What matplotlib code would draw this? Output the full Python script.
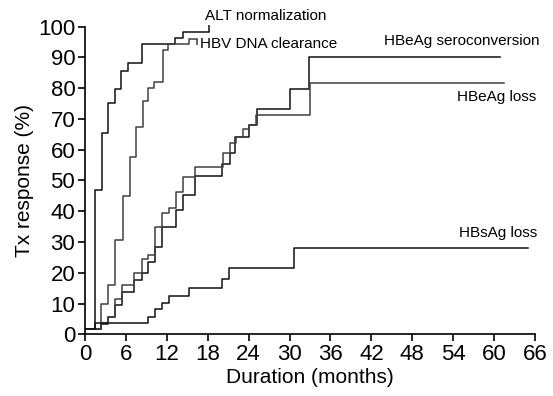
import matplotlib.pyplot as plt

# Cumulative treatment response curves (months, %)
alt_t = [0, 1.42, 2.45, 3.33, 4.4, 5.29, 6.36, 8.32, 13.2, 14.34, 18.2]
alt_y = [1.7, 46.9, 65.3, 75.3, 79.6, 85.7, 88.1, 94.3, 96.4, 98.2, 98.2]

hbv_t = [0, 2.35, 3.43, 4.4, 5.55, 6.55, 7.45, 8.47, 9.3, 10.15, 11.4, 12.2, 15.2, 16.4]
hbv_y = [1.7, 9.7, 16.0, 30.5, 45.0, 57.5, 67.5, 76.0, 80.0, 82.0, 92.3, 94.3, 96.0, 96.0]

sero_t = [0, 2.35, 3.43, 4.4, 5.39, 7.24, 8.32, 9.3, 10.28, 11.35, 13.3, 14.4,
          16.2, 20.1, 21.2, 22.0, 24.1, 25.2, 30.0, 32.9, 60.8]
sero_y = [1.7, 3.3, 5.7, 9.5, 13.9, 17.6, 20.0, 23.6, 28.5, 35.0, 40.4, 45.3,
          51.5, 55.4, 59.0, 64.0, 68.0, 73.1, 79.6, 90.0, 90.0]

loss_t = [0, 2.35, 3.43, 4.4, 5.39, 7.24, 8.32, 9.3, 10.28, 11.35, 12.3, 13.3,
          14.3, 16.2, 20.2, 21.2, 22.2, 23.1, 24.0, 25.1, 33.0, 61.4]
loss_y = [1.7, 3.8, 5.7, 11.5, 16.0, 20.0, 24.4, 25.8, 35.0, 39.3, 41.0, 46.4,
          51.2, 54.5, 58.8, 62.3, 64.0, 66.6, 68.0, 71.3, 81.6, 81.6]

hbs_t = [0, 1.42, 9.3, 10.28, 11.35, 12.3, 15.3, 20.1, 21.1, 30.7, 64.9]
hbs_y = [1.7, 3.8, 5.7, 8.1, 10.1, 12.5, 15.0, 18.0, 21.7, 28.2, 28.2]

x_ticks = list(range(0, 67, 6))
y_ticks = list(range(0, 101, 10))

plt.rcParams['font.family'] = ['Liberation Sans', 'DejaVu Sans']

fig = plt.figure(figsize=(5.53, 3.96), dpi=100)
ax = fig.add_axes([0.1537, 0.1558, 0.8138, 0.7768])

dark = '#111111'
grey = '#404040'
ax.step(alt_t, alt_y, where='post', color=dark, lw=1.1)
ax.step(hbv_t, hbv_y, where='post', color=grey, lw=1.1)
ax.step(sero_t, sero_y, where='post', color=dark, lw=1.1)
ax.step(loss_t, loss_y, where='post', color=grey, lw=1.1)
ax.step(hbs_t, hbs_y, where='post', color=dark, lw=1.1)

# small leader ticks at the curve ends
ax.vlines(alt_t[-1], alt_y[-1], alt_y[-1] + 2.5, color=dark, lw=1.1, clip_on=False)
ax.vlines(hbv_t[-1], hbv_y[-1] - 2, hbv_y[-1], color=grey, lw=1.1, clip_on=False)

lbl = dict(fontsize=11, va='center', ha='left', clip_on=False)
ax.text(17.6, 103.5, 'ALT normalization', **lbl)
ax.text(16.9, 94.4, 'HBV DNA clearance', **lbl)
ax.text(43.8, 95.4, 'HBeAg seroconversion', **lbl)
ax.text(54.6, 77.1, 'HBeAg loss', **lbl)
ax.text(54.9, 32.9, 'HBsAg loss', **lbl)

ax.set_xlim(0, 66)
ax.set_ylim(0, 100)
ax.set_xticks(x_ticks)
ax.set_yticks(y_ticks)
ax.tick_params(labelsize=16, length=5, width=1.2, direction='out', pad=2)
for s in ['top', 'right']:
    ax.spines[s].set_visible(False)
for s in ['left', 'bottom']:
    ax.spines[s].set_linewidth(1.2)

ax.set_xlabel('Duration (months)', fontsize=15, labelpad=2)
ax.set_ylabel('Tx response (%)', fontsize=15, labelpad=3)

fig.savefig('out.png', dpi=100)
